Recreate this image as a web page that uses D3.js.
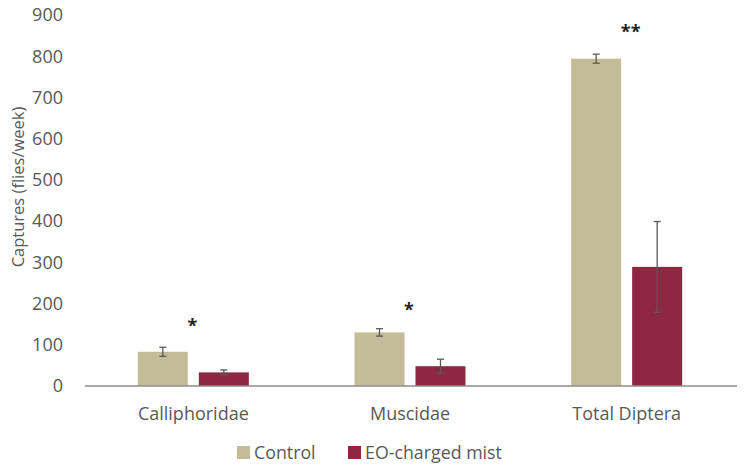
<!DOCTYPE html>
<html><head><meta charset="utf-8">
<script src="https://cdn.jsdelivr.net/npm/d3@7"></script>
<style>
body{margin:0;background:#fff;}
text{font-family:"Open Sans",sans-serif;fill:#595959;}
</style></head>
<body><svg id="c" width="746" height="470"></svg>
<script>
const categories = ["Calliphoridae","Muscidae","Total Diptera"];
const seriesNames = ["Control","EO-charged mist"];
const controlValues = [83,130,794];
const controlErrors = [11,9,11];
const eoValues = [33,48,289];
const eoErrors = [6,17,110];
const significance = ["*","*","**"];
const yTicks = [0,100,200,300,400,500,600,700,800,900];
const colors = ["#C4BC96","#8E2840"];

const svg = d3.select("#c");
const m = {left:85, right:11, top:15, bottom:84};
const W = 746, H = 470;
const x = d3.scaleBand().domain(categories).range([m.left, W - m.right]).paddingInner(0).paddingOuter(0);
const x1 = d3.scaleBand().domain(seriesNames).range([0, 111]).paddingInner(0.18);
const y = d3.scaleLinear().domain([0,900]).range([H - m.bottom, m.top]);

// y tick labels
svg.append("g").selectAll("text").data(yTicks).join("text")
  .attr("x", 63).attr("y", d => y(d)).attr("dy","0.35em")
  .attr("text-anchor","end").style("font-size","18px").text(d => d);

const data = [];
categories.forEach((c,i) => {
  data.push({cat:c, s:seriesNames[0], v:controlValues[i], e:controlErrors[i], col:colors[0]});
  data.push({cat:c, s:seriesNames[1], v:eoValues[i], e:eoErrors[i], col:colors[1]});
});
const gx = c => x(c) + (x.bandwidth() - 111)/2;

svg.append("g").selectAll("rect").data(data).join("rect")
  .attr("x", d => gx(d.cat) + x1(d.s)).attr("width", x1.bandwidth())
  .attr("y", d => y(d.v)).attr("height", d => y(0) - y(d.v))
  .attr("fill", d => d.col);

// axis line
svg.append("line").attr("x1", m.left).attr("x2", W - m.right + 2)
  .attr("y1", y(0)).attr("y2", y(0)).attr("stroke","#8c8c8c").attr("stroke-width",1.5);

// error bars
const eb = svg.append("g").attr("stroke","#595959").attr("stroke-width",1.3);
data.forEach(d => {
  const cx = gx(d.cat) + x1(d.s) + x1.bandwidth()/2;
  eb.append("line").attr("x1",cx).attr("x2",cx).attr("y1",y(d.v+d.e)).attr("y2",y(d.v-d.e));
  [d.v+d.e, d.v-d.e].forEach(v => eb.append("line").attr("x1",cx-3.5).attr("x2",cx+3.5).attr("y1",y(v)).attr("y2",y(v)));
});

// significance
const sigY = [321, 305, 27];
svg.append("g").selectAll("text").data(categories).join("text")
  .attr("x", (c,i) => x(c) + x.bandwidth()/2 - 1 + (i===2?5:0))
  .attr("y", (c,i) => sigY[i]).attr("dy","0.6em")
  .attr("text-anchor","middle").style("font-size","18px").style("font-weight","bold")
  .style("fill","#222").text((c,i) => significance[i]);

// category labels
svg.append("g").selectAll("text").data(categories).join("text")
  .attr("x", c => x(c) + x.bandwidth()/2).attr("y", 414).attr("dy","0.35em")
  .attr("text-anchor","middle").style("font-size","18px").text(c => c);

// y axis title
svg.append("text").attr("transform","translate(18,187) rotate(-90)")
  .attr("text-anchor","middle").attr("dy","0.35em").style("font-size","16.5px")
  .text("Captures (flies/week)");

// legend
const legX = [237, 348];
const lg = svg.append("g");
seriesNames.forEach((s,i) => {
  lg.append("rect").attr("x",legX[i]).attr("y",446).attr("width",13).attr("height",13).attr("fill",colors[i]);
  lg.append("text").attr("x",legX[i]+17).attr("y",452.5).attr("dy","0.35em").style("font-size","17.8px").text(s);
});
</script></body></html>
